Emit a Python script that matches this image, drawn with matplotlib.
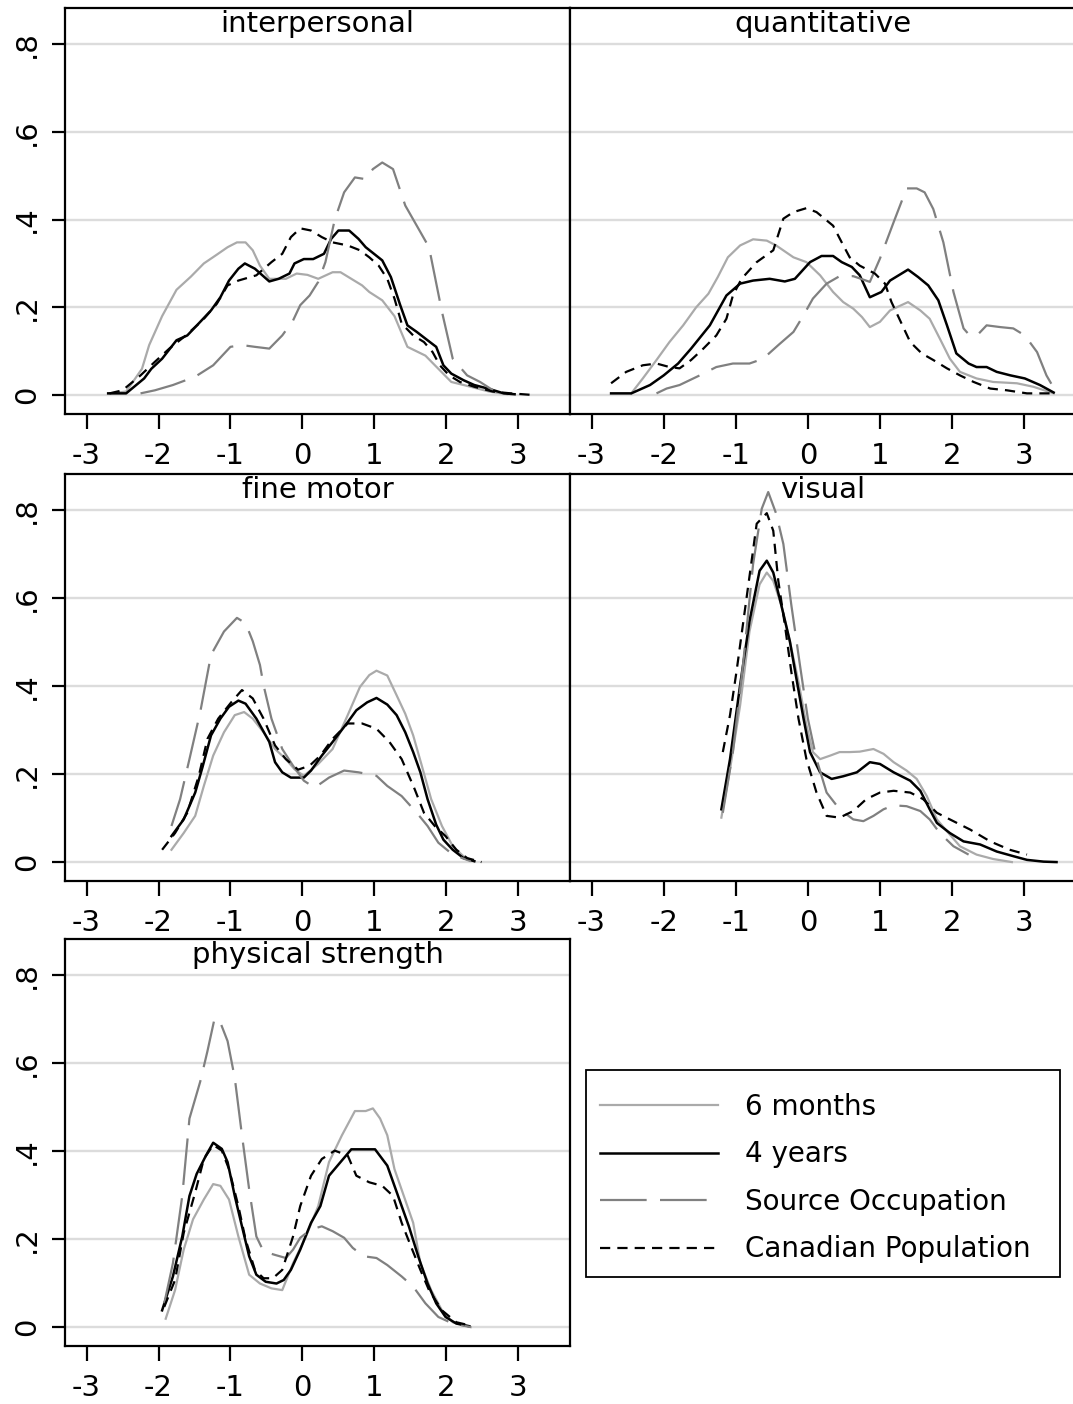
import numpy as np
import matplotlib.pyplot as plt
from matplotlib.patches import Rectangle

plt.rcParams['font.family'] = ['DejaVu Sans']

panel_titles = ['interpersonal', 'quantitative', 'fine motor', 'visual', 'physical strength']
series_names = ['6 months', '4 years', 'Source Occupation', 'Canadian Population']
x_ticks = [-3, -2, -1, 0, 1, 2, 3]
y_ticks = [0, 0.2, 0.4, 0.6, 0.8]
y_tick_labels = ['0', '.2', '.4', '.6', '.8']

# --- interpersonal ---
inter_6m_x = [-2.68, -2.45, -2.23, -2.13, -1.95, -1.75, -1.55, -1.37, -1.19, -1.04, -0.91, -0.79, -0.69, -0.59,
              -0.46, -0.23, -0.08, 0.07, 0.22, 0.42, 0.53, 0.68, 0.83, 0.93, 1.11, 1.28, 1.46, 1.71, 1.89, 2.07,
              2.34, 2.6, 2.85]
inter_6m_y = [0.004, 0.008, 0.06, 0.114, 0.18, 0.24, 0.27, 0.30, 0.32, 0.337, 0.348, 0.348, 0.33, 0.295,
              0.265, 0.265, 0.277, 0.274, 0.265, 0.28, 0.28, 0.265, 0.25, 0.235, 0.216, 0.18, 0.11, 0.09, 0.06,
              0.03, 0.019, 0.008, 0.002]
inter_4y_x = [-2.7, -2.45, -2.2, -2.1, -1.95, -1.75, -1.6, -1.42, -1.27, -1.14, -1.02, -0.89, -0.8, -0.66,
              -0.46, -0.33, -0.18, -0.11, 0.02, 0.15, 0.3, 0.4, 0.5, 0.65, 0.78, 0.88, 1.11, 1.23, 1.36, 1.46,
              1.59, 1.74, 1.86, 1.96, 2.07, 2.24, 2.39, 2.6, 2.8, 2.95]
inter_4y_y = [0.004, 0.004, 0.038, 0.06, 0.083, 0.125, 0.136, 0.167, 0.193, 0.223, 0.261, 0.288, 0.30, 0.288,
              0.259, 0.265, 0.277, 0.30, 0.31, 0.31, 0.322, 0.356, 0.375, 0.375, 0.356, 0.337, 0.307, 0.269,
              0.205, 0.159, 0.144, 0.125, 0.11, 0.068, 0.049, 0.034, 0.023, 0.014, 0.004, 0.002]
inter_src_x = [-2.25, -2.05, -1.8, -1.49, -1.24, -1.0, -0.84, -0.66, -0.46, -0.28, -0.13, -0.03, 0.1, 0.22,
               0.32, 0.45, 0.58, 0.73, 0.88, 0.98, 1.11, 1.26, 1.43, 1.59, 1.76, 1.94, 2.09, 2.29, 2.47, 2.65]
inter_src_y = [0.004, 0.011, 0.023, 0.042, 0.068, 0.11, 0.114, 0.11, 0.106, 0.136, 0.17, 0.205, 0.227, 0.258,
               0.303, 0.40, 0.462, 0.496, 0.492, 0.515, 0.53, 0.515, 0.432, 0.386, 0.337, 0.19, 0.083, 0.045,
               0.03, 0.011]
inter_can_x = [-2.68, -2.5, -2.25, -2.05, -1.85, -1.62, -1.39, -1.19, -1.04, -0.89, -0.64, -0.43, -0.28, -0.16,
               -0.03, 0.12, 0.27, 0.42, 0.63, 0.8, 0.93, 1.06, 1.18, 1.28, 1.38, 1.54, 1.69, 1.81, 1.91, 2.04,
               2.19, 2.39, 2.65, 2.9, 3.23]
inter_can_y = [0.004, 0.011, 0.045, 0.076, 0.106, 0.136, 0.17, 0.208, 0.25, 0.261, 0.273, 0.303, 0.322, 0.36,
               0.38, 0.375, 0.36, 0.348, 0.341, 0.33, 0.314, 0.295, 0.265, 0.22, 0.163, 0.136, 0.121, 0.098,
               0.068, 0.045, 0.03, 0.019, 0.008, 0.004, 0.0]

# --- quantitative ---
quant_6m_x = [-2.45, -2.29, -2.1, -1.92, -1.73, -1.55, -1.38, -1.25, -1.11, -0.94, -0.76, -0.57, -0.44, -0.2,
              -0.02, 0.17, 0.35, 0.49, 0.63, 0.75, 0.86, 1.0, 1.14, 1.39, 1.56, 1.69, 1.83, 1.97, 2.11, 2.34,
              2.57, 2.9, 3.13, 3.41]
quant_6m_y = [0.004, 0.038, 0.08, 0.121, 0.159, 0.2, 0.231, 0.269, 0.314, 0.341, 0.355, 0.352, 0.341, 0.314,
              0.303, 0.273, 0.235, 0.212, 0.197, 0.178, 0.155, 0.167, 0.193, 0.212, 0.193, 0.174, 0.129, 0.083,
              0.053, 0.038, 0.03, 0.027, 0.019, 0.004]
quant_4y_x = [-2.73, -2.45, -2.19, -2.0, -1.8, -1.62, -1.36, -1.13, -0.94, -0.76, -0.53, -0.32, -0.18, 0.03,
              0.19, 0.35, 0.47, 0.61, 0.72, 0.86, 1.02, 1.14, 1.39, 1.53, 1.67, 1.81, 1.93, 2.06, 2.23, 2.34,
              2.48, 2.62, 2.81, 3.01, 3.22, 3.41]
quant_4y_y = [0.004, 0.004, 0.023, 0.045, 0.072, 0.106, 0.159, 0.227, 0.254, 0.261, 0.265, 0.259, 0.265, 0.303,
              0.317, 0.317, 0.303, 0.292, 0.273, 0.223, 0.235, 0.261, 0.286, 0.269, 0.25, 0.216, 0.159, 0.095,
              0.072, 0.064, 0.064, 0.053, 0.045, 0.038, 0.023, 0.006]
quant_src_x = [-2.1, -1.96, -1.78, -1.5, -1.27, -1.04, -0.81, -0.62, -0.41, -0.2, -0.06, 0.07, 0.26, 0.44,
               0.63, 0.86, 1.0, 1.19, 1.37, 1.51, 1.62, 1.74, 1.88, 2.02, 2.16, 2.25, 2.37, 2.48, 2.67, 2.85,
               3.01, 3.18, 3.31, 3.43]
quant_src_y = [0.004, 0.015, 0.023, 0.045, 0.064, 0.072, 0.072, 0.083, 0.114, 0.144, 0.182, 0.22, 0.254, 0.271,
               0.271, 0.258, 0.311, 0.394, 0.471, 0.471, 0.462, 0.424, 0.348, 0.235, 0.152, 0.135, 0.14, 0.159,
               0.155, 0.152, 0.136, 0.098, 0.045, 0.011]
quant_can_x = [-2.73, -2.52, -2.29, -2.1, -1.92, -1.78, -1.62, -1.45, -1.27, -1.13, -1.04, -0.92, -0.71, -0.48,
               -0.34, -0.2, -0.02, 0.12, 0.35, 0.47, 0.58, 0.72, 0.93, 1.07, 1.16, 1.28, 1.42, 1.58, 1.74, 1.93,
               2.11, 2.3, 2.53, 2.76, 3.04, 3.41]
quant_can_y = [0.027, 0.053, 0.068, 0.072, 0.064, 0.061, 0.08, 0.106, 0.136, 0.174, 0.227, 0.265, 0.303, 0.33,
               0.402, 0.417, 0.426, 0.417, 0.386, 0.348, 0.314, 0.295, 0.277, 0.254, 0.212, 0.17, 0.121, 0.095,
               0.08, 0.061, 0.045, 0.03, 0.015, 0.011, 0.004, 0.004]

# --- fine motor ---
fine_6m_x = [-1.82, -1.65, -1.49, -1.37, -1.24, -1.09, -0.94, -0.81, -0.69, -0.54, -0.38, -0.23, -0.11, 0.02,
             0.22, 0.42, 0.63, 0.8, 0.93, 1.03, 1.18, 1.31, 1.43, 1.54, 1.66, 1.79, 1.94, 2.09, 2.24, 2.39]
fine_6m_y = [0.028, 0.066, 0.105, 0.173, 0.242, 0.295, 0.334, 0.341, 0.326, 0.295, 0.257, 0.234, 0.211, 0.196,
             0.223, 0.257, 0.334, 0.398, 0.425, 0.435, 0.424, 0.379, 0.337, 0.288, 0.219, 0.143, 0.082, 0.036,
             0.013, 0.002]
fine_4y_x = [-1.82, -1.65, -1.49, -1.39, -1.27, -1.14, -1.02, -0.89, -0.79, -0.64, -0.46, -0.38, -0.28, -0.16,
             0.02, 0.12, 0.27, 0.42, 0.63, 0.75, 0.9, 1.03, 1.18, 1.31, 1.43, 1.54, 1.64, 1.74, 1.86, 1.96,
             2.09, 2.24, 2.39]
fine_4y_y = [0.059, 0.097, 0.158, 0.215, 0.288, 0.326, 0.353, 0.367, 0.36, 0.326, 0.273, 0.227, 0.204, 0.192,
             0.192, 0.208, 0.242, 0.273, 0.318, 0.345, 0.363, 0.373, 0.358, 0.334, 0.295, 0.25, 0.204, 0.143,
             0.085, 0.051, 0.028, 0.009, 0.002]
fine_src_x = [-1.82, -1.7, -1.57, -1.42, -1.27, -1.09, -0.91, -0.79, -0.69, -0.59, -0.54, -0.43, -0.28, -0.13,
              0.02, 0.17, 0.37, 0.58, 0.78, 1.03, 1.18, 1.38, 1.59, 1.74, 1.89, 2.09, 2.34]
fine_src_y = [0.082, 0.143, 0.234, 0.341, 0.471, 0.524, 0.555, 0.543, 0.502, 0.448, 0.402, 0.326, 0.257, 0.219,
              0.185, 0.169, 0.192, 0.208, 0.204, 0.196, 0.173, 0.15, 0.112, 0.082, 0.044, 0.017, 0.002]
fine_can_x = [-1.95, -1.77, -1.6, -1.44, -1.32, -1.17, -0.99, -0.84, -0.69, -0.54, -0.38, -0.23, -0.06, 0.1,
              0.25, 0.42, 0.63, 0.83, 1.03, 1.21, 1.38, 1.56, 1.69, 1.84, 1.99, 2.14, 2.29, 2.49]
fine_can_y = [0.028, 0.066, 0.112, 0.196, 0.28, 0.326, 0.363, 0.391, 0.372, 0.326, 0.265, 0.234, 0.21, 0.219,
              0.242, 0.28, 0.315, 0.315, 0.303, 0.273, 0.234, 0.166, 0.112, 0.082, 0.059, 0.028, 0.009, 0.0]

# --- visual ---
vis_6m_x = [-1.2, -1.08, -0.94, -0.81, -0.67, -0.57, -0.48, -0.37, -0.25, -0.13, -0.02, 0.07, 0.17, 0.31, 0.44,
            0.58, 0.72, 0.91, 1.05, 1.19, 1.37, 1.51, 1.65, 1.79, 1.93, 2.11, 2.34, 2.57, 2.83]
vis_6m_y = [0.101, 0.211, 0.356, 0.524, 0.631, 0.658, 0.639, 0.585, 0.502, 0.41, 0.311, 0.25, 0.234, 0.242,
            0.25, 0.25, 0.251, 0.257, 0.246, 0.227, 0.208, 0.189, 0.15, 0.097, 0.07, 0.036, 0.017, 0.007, 0.0]
vis_4y_x = [-1.2, -1.08, -0.94, -0.81, -0.67, -0.57, -0.48, -0.37, -0.25, -0.16, -0.06, 0.03, 0.17, 0.33, 0.49,
            0.68, 0.86, 1.0, 1.19, 1.42, 1.56, 1.69, 1.79, 1.97, 2.16, 2.39, 2.62, 2.86, 3.04, 3.27, 3.45]
vis_4y_y = [0.12, 0.234, 0.402, 0.547, 0.662, 0.685, 0.658, 0.585, 0.502, 0.418, 0.326, 0.25, 0.204, 0.189,
            0.195, 0.204, 0.227, 0.223, 0.204, 0.185, 0.162, 0.12, 0.089, 0.066, 0.047, 0.04, 0.024, 0.013,
            0.005, 0.001, 0.0]
vis_src_x = [-1.18, -1.04, -0.9, -0.76, -0.64, -0.55, -0.44, -0.34, -0.23, -0.11, 0.0, 0.12, 0.26, 0.44, 0.63,
             0.77, 0.91, 1.05, 1.19, 1.37, 1.56, 1.69, 1.83, 2.02, 2.23]
vis_src_y = [0.112, 0.25, 0.448, 0.677, 0.803, 0.841, 0.792, 0.723, 0.585, 0.448, 0.326, 0.234, 0.158, 0.12,
             0.097, 0.093, 0.105, 0.12, 0.129, 0.127, 0.116, 0.097, 0.066, 0.036, 0.017]
vis_can_x = [-1.18, -1.08, -0.99, -0.85, -0.71, -0.57, -0.48, -0.41, -0.32, -0.23, -0.13, -0.02, 0.12, 0.26,
             0.44, 0.63, 0.81, 1.0, 1.19, 1.42, 1.6, 1.79, 1.97, 2.25, 2.53, 2.8, 3.04]
vis_can_y = [0.25, 0.334, 0.433, 0.601, 0.769, 0.793, 0.753, 0.639, 0.54, 0.433, 0.326, 0.234, 0.158, 0.105,
             0.101, 0.116, 0.143, 0.158, 0.162, 0.158, 0.143, 0.112, 0.097, 0.074, 0.047, 0.028, 0.017]

# --- physical strength ---
phys_6m_x = [-1.9, -1.77, -1.65, -1.52, -1.37, -1.24, -1.14, -1.02, -0.89, -0.74, -0.59, -0.43, -0.28, -0.13,
             0.05, 0.22, 0.37, 0.55, 0.73, 0.88, 0.98, 1.08, 1.18, 1.28, 1.41, 1.54, 1.64, 1.79, 1.94, 2.09, 2.34]
phys_6m_y = [0.019, 0.084, 0.176, 0.245, 0.29, 0.325, 0.321, 0.29, 0.206, 0.119, 0.099, 0.088, 0.084, 0.145,
             0.206, 0.275, 0.375, 0.436, 0.491, 0.491, 0.497, 0.474, 0.436, 0.359, 0.298, 0.237, 0.145, 0.084,
             0.038, 0.011, 0.0]
phys_4y_x = [-1.95, -1.8, -1.67, -1.57, -1.47, -1.34, -1.24, -1.12, -1.04, -0.94, -0.84, -0.74, -0.64, -0.51,
             -0.36, -0.26, -0.16, -0.03, 0.12, 0.25, 0.37, 0.53, 0.68, 0.88, 1.01, 1.18, 1.33, 1.48, 1.61, 1.74,
             1.86, 1.99, 2.14, 2.32]
phys_4y_y = [0.038, 0.115, 0.206, 0.298, 0.348, 0.39, 0.419, 0.405, 0.375, 0.298, 0.229, 0.161, 0.119, 0.103,
             0.099, 0.107, 0.13, 0.176, 0.237, 0.275, 0.344, 0.375, 0.404, 0.404, 0.404, 0.367, 0.298, 0.229,
             0.161, 0.099, 0.054, 0.023, 0.008, 0.002]
phys_src_x = [-1.92, -1.8, -1.67, -1.57, -1.42, -1.32, -1.22, -1.14, -1.04, -0.94, -0.84, -0.74, -0.64, -0.54,
              -0.38, -0.23, -0.13, -0.03, 0.12, 0.27, 0.42, 0.58, 0.7, 0.85, 1.03, 1.18, 1.38, 1.54, 1.71, 1.89,
              2.09, 2.34]
phys_src_y = [0.054, 0.145, 0.298, 0.474, 0.558, 0.627, 0.702, 0.692, 0.65, 0.566, 0.436, 0.313, 0.206, 0.172,
              0.164, 0.157, 0.176, 0.203, 0.222, 0.229, 0.218, 0.203, 0.18, 0.161, 0.157, 0.141, 0.115, 0.092,
              0.054, 0.023, 0.008, 0.0]
phys_can_x = [-1.92, -1.77, -1.65, -1.49, -1.37, -1.24, -1.12, -1.02, -0.89, -0.79, -0.66, -0.54, -0.41, -0.28,
              -0.13, -0.03, 0.12, 0.27, 0.45, 0.63, 0.75, 0.93, 1.11, 1.26, 1.38, 1.51, 1.64, 1.76, 1.94, 2.14,
              2.32]
phys_can_y = [0.046, 0.107, 0.214, 0.306, 0.382, 0.414, 0.401, 0.359, 0.275, 0.199, 0.13, 0.111, 0.111, 0.13,
              0.206, 0.275, 0.344, 0.382, 0.401, 0.39, 0.344, 0.329, 0.321, 0.298, 0.237, 0.183, 0.13, 0.084,
              0.038, 0.011, 0.004]

panel_data = [
    [(inter_6m_x, inter_6m_y), (inter_4y_x, inter_4y_y), (inter_src_x, inter_src_y), (inter_can_x, inter_can_y)],
    [(quant_6m_x, quant_6m_y), (quant_4y_x, quant_4y_y), (quant_src_x, quant_src_y), (quant_can_x, quant_can_y)],
    [(fine_6m_x, fine_6m_y), (fine_4y_x, fine_4y_y), (fine_src_x, fine_src_y), (fine_can_x, fine_can_y)],
    [(vis_6m_x, vis_6m_y), (vis_4y_x, vis_4y_y), (vis_src_x, vis_src_y), (vis_can_x, vis_can_y)],
    [(phys_6m_x, phys_6m_y), (phys_4y_x, phys_4y_y), (phys_src_x, phys_src_y), (phys_can_x, phys_can_y)],
]

# colour, linewidth, dash pattern (None = solid)
styles = [
    ('#aaaaaa', 1.6, None),
    ('black', 1.8, None),
    ('#808080', 1.6, (21, 6)),
    ('black', 1.6, (4.6, 3.2)),
]

W, H = 1073, 1404
fig = plt.figure(figsize=(W / 100, H / 100), dpi=100)

# pixel boxes (left, top, right, bottom)
boxes = [
    (65, 8, 570, 414),
    (570, 8, 1076, 414),
    (65, 474, 570, 881),
    (570, 474, 1076, 881),
    (65, 939, 570, 1346),
]

for i, (title, data) in enumerate(zip(panel_titles, panel_data)):
    l, t, r, b = boxes[i]
    ax = fig.add_axes([l / W, 1 - b / H, (r - l) / W, (b - t) / H])
    for (xs, ys), name, (col, lw, dash) in zip(data, series_names, styles):
        line, = ax.plot(xs, ys, color=col, lw=lw, label=name, zorder=3)
        if dash is not None:
            line.set_dashes(dash)
    ax.set_xlim(-3.3, 3.72)
    ax.set_ylim(-0.043, 0.882)
    ax.set_yticks(y_ticks)
    ax.yaxis.grid(True, color='#dcdcdc', lw=1.7, zorder=0)
    ax.set_axisbelow(True)
    ax.set_xticks(x_ticks)
    ax.set_xticklabels([str(v) for v in x_ticks], fontsize=21)
    ax.tick_params(axis='x', length=11, width=1.6, pad=9)
    if i % 2 == 0:
        ax.set_yticklabels(y_tick_labels, fontsize=21, rotation=90, va='center')
        ax.tick_params(axis='y', length=9.5, width=1.6, pad=8)
    else:
        ax.tick_params(axis='y', length=0, labelleft=False)
    for sp in ax.spines.values():
        sp.set_linewidth(1.6)
    ax.text(0.5, 0.995, title, transform=ax.transAxes, ha='center', va='top', fontsize=21)
    if i == 0:
        handles, labels = ax.get_legend_handles_labels()

# legend box drawn by hand so its size matches
fig.patches.append(Rectangle((586 / W, 1 - 1277 / H), (1060 - 586) / W, (1277 - 1070) / H,
                             transform=fig.transFigure, fill=False, ec='black', lw=1.3))
leg = fig.legend(handles, labels, loc='upper left', bbox_to_anchor=(600 / W, 1 - 1093 / H),
                 fontsize=20, frameon=False, handlelength=4.25, handletextpad=0.97,
                 labelspacing=0.7, borderpad=0, borderaxespad=0)

fig.savefig('out.png', dpi=100)
